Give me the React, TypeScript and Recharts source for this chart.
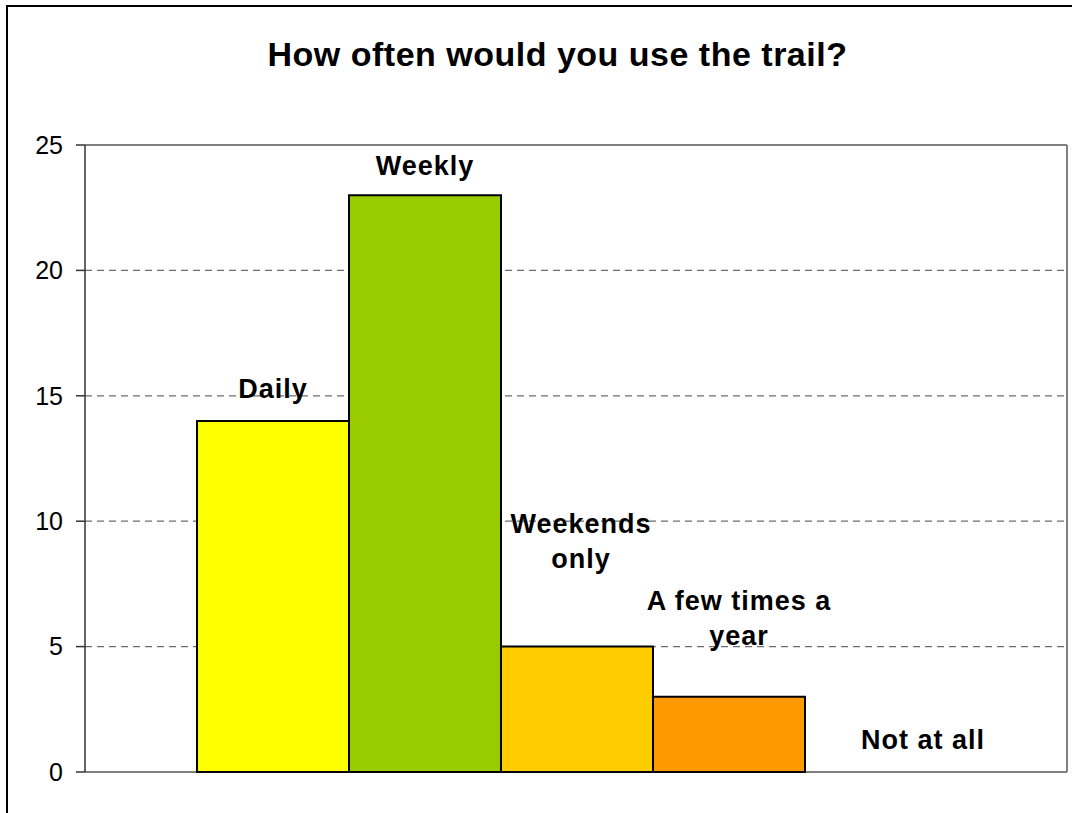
import {
  Bar,
  BarChart,
  CartesianGrid,
  LabelList,
  XAxis,
  YAxis,
} from "recharts";

// one category, five answers drawn side by side as separate series
const categories = ["How often would you use the trail?"];
const seriesKeys = ["daily", "weekly", "weekends", "fewTimes", "notAtAll"];
const seriesValues = [14, 23, 5, 3, 0];
const seriesLabels = [
  ["Daily"],
  ["Weekly"],
  ["Weekends", "only"],
  ["A few times a", "year"],
  ["Not at all"],
];
const yTicks = [0, 5, 10, 15, 20, 25];

const seriesColors = ["#FFFF00", "#99CC00", "#FFCC00", "#FF9900", "#FF6600"];
// how far each label sits above its bar (last baseline) and sideways nudge
const labelNudge = [
  { dx: 0, lift: 23 },
  { dx: 0, lift: 20 },
  { dx: 4, lift: 79 },
  { dx: 10, lift: 52 },
  { dx: 42, lift: 23 },
];

const FONT = '"Liberation Sans", Arial, Helvetica, sans-serif';
const LINE_HEIGHT = 35;

const chartData = categories.map((name) => {
  const row: Record<string, string | number> = { name };
  seriesKeys.forEach((key, i) => {
    row[key] = seriesValues[i];
  });
  return row;
});

// Recharts skips the label of a zero-height bar, so all five labels are
// drawn from the first bar's geometry (bars sit edge to edge, same scale).
function AllLabels(props: any) {
  const x = Number(props.x);
  const y = Number(props.y);
  const width = Number(props.width);
  const height = Number(props.height);
  const bottom = y + height;
  const unit = height / seriesValues[0];
  return (
    <g>
      {seriesLabels.map((lines, i) => {
        const cx = x + width * i + width / 2 + labelNudge[i].dx;
        const top = bottom - seriesValues[i] * unit;
        const lastBaseline = top - labelNudge[i].lift;
        return (
          <text
            key={i}
            textAnchor="middle"
            fontFamily={FONT}
            fontSize={27}
            fontWeight="bold"
            letterSpacing={1}
            fill="#000"
          >
            {lines.map((line, k) => (
              <tspan
                key={k}
                x={cx}
                y={lastBaseline - (lines.length - 1 - k) * LINE_HEIGHT}
              >
                {line}
              </tspan>
            ))}
          </text>
        );
      })}
    </g>
  );
}

export default function App() {
  return (
    <div
      style={{
        position: "absolute",
        left: 0,
        top: 0,
        width: 1075,
        height: 813,
        overflow: "hidden",
        background: "#fff",
        fontFamily: FONT,
      }}
    >
      <div
        style={{
          position: "absolute",
          left: 6,
          top: 5,
          width: 1064,
          height: 830,
          borderLeft: "2px solid #000",
          borderTop: "2px solid #000",
        }}
      />
      <div
        style={{
          position: "absolute",
          left: 0,
          top: 37,
          width: 1115,
          textAlign: "center",
          fontSize: 34,
          lineHeight: "34px",
          fontWeight: "bold",
          letterSpacing: 0.5,
          color: "#000",
        }}
      >
        {categories[0]}
      </div>
      <div style={{ position: "absolute", left: 0, top: 0 }}>
        <BarChart
          width={1075}
          height={813}
          data={chartData}
          margin={{ top: 145, right: 8, bottom: 41, left: 25 }}
          barCategoryGap={112}
          barGap={0}
        >
          <CartesianGrid
            vertical={false}
            stroke="#6e6e6e"
            strokeWidth={1.2}
            strokeDasharray="7 5"
          />
          <CartesianGrid
            stroke="#808080"
            strokeWidth={2}
            horizontalCoordinatesGenerator={({ offset }: any) => [
              offset.top,
              offset.top + offset.height,
            ]}
            verticalCoordinatesGenerator={({ offset }: any) => [
              offset.left + offset.width,
            ]}
          />
          <XAxis dataKey="name" hide />
          <YAxis
            domain={[0, 25]}
            ticks={yTicks}
            width={60}
            tickSize={9}
            tickMargin={13}
            axisLine={{ stroke: "#333", strokeWidth: 1.5 }}
            tickLine={{ stroke: "#333", strokeWidth: 1.5 }}
            tick={{ fontSize: 25, fill: "#000", fontFamily: FONT }}
          />
          {seriesKeys.map((key, i) => (
            <Bar
              key={key}
              dataKey={key}
              fill={seriesColors[i]}
              stroke="#000"
              strokeWidth={2}
              isAnimationActive={false}
            >
              {i === 0 && <LabelList dataKey={key} content={AllLabels} />}
            </Bar>
          ))}
        </BarChart>
      </div>
    </div>
  );
}
